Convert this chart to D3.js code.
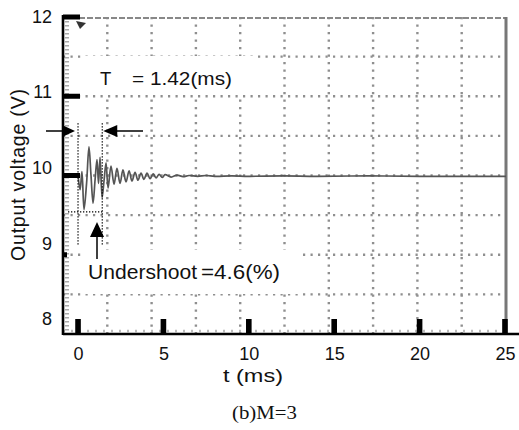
<!DOCTYPE html>
<html>
<head>
<meta charset="utf-8">
<script src="https://cdn.jsdelivr.net/npm/d3@7"></script>
<style>
  body { margin: 0; background: #fff; }
  svg { display: block; font-family: "Liberation Sans", Arial, sans-serif; }
</style>
</head>
<body>
<svg id="chart" width="519" height="430"></svg>
<script>
// Step response of the output voltage (time in ms, voltage in V)
const timeMs = [
  0.00, 0.12, 0.23, 0.35, 0.50, 0.64, 0.76, 0.88, 1.00, 1.11,
  1.20, 1.29, 1.41, 1.53, 1.64, 1.76, 1.93, 2.11, 2.28, 2.46,
  2.63, 2.81, 2.99, 3.16, 3.34, 3.51, 3.69, 3.86, 4.04, 4.22,
  4.40, 4.57, 4.75, 4.93, 5.10, 5.45, 5.80, 6.15, 6.50, 7.00,
  7.50, 8.00, 9.00, 10.0, 12.0, 14.0, 17.0, 20.0, 25.06
];
const voltage = [
  10.00, 9.82, 10.05, 9.57, 9.90, 10.36, 10.00, 9.65, 9.95, 10.20,
  9.90, 10.23, 9.72, 9.95, 10.16, 9.84, 10.12, 9.89, 10.09, 9.90,
  10.07, 9.92, 10.06, 9.93, 10.04, 9.94, 10.03, 9.95, 10.03, 9.96,
  10.02, 9.97, 10.015, 9.975, 10.01, 9.98, 10.005, 9.985, 10.00, 9.99,
  10.00, 9.99, 9.995, 9.99, 9.995, 9.99, 9.995, 9.99, 9.99
];
const xTickValues = [0, 5, 10, 15, 20, 25];
const yTickValues = [8, 9, 10, 11, 12];
const periodMs = 1.42;
const undershootPct = 4.6;
const referenceV = 10;
const gridCols = 10;
const gridRows = 8;

const svg = d3.select("#chart");

const plotL = 63, plotR = 506, plotT = 17, plotB = 334;
const x = d3.scaleLinear().domain([-0.88, 25.06]).range([plotL, plotR]);
const y = d3.scaleLinear().domain([8, 12]).range([plotB, plotT]);
// tick labels sit slightly above their tick marks
const yLabel = d3.scaleLinear().domain([8, 12]).range([319, 16.5]);
const gx = d3.scaleLinear().domain([0, gridCols]).range([plotL, plotR]);
const gy = d3.scaleLinear().domain([0, gridRows]).range([plotT, plotB]);

// scope graticule
const grid = svg.append("g").attr("stroke", "#8f8f8f").attr("stroke-width", 2.4)
  .attr("stroke-dasharray", "2.2,5.3");
grid.selectAll("line.v").data(d3.range(1, gridCols)).join("line").attr("class", "v")
  .attr("x1", d => gx(d)).attr("x2", d => gx(d)).attr("y1", plotT).attr("y2", plotB);
grid.selectAll("line.h").data(d3.range(1, gridRows)).join("line").attr("class", "h")
  .attr("y1", d => gy(d)).attr("y2", d => gy(d)).attr("x1", plotL).attr("x2", plotR);

// minor graticule marks along the inner left and bottom edges
svg.append("line").attr("x1", plotL + 4).attr("x2", plotL + 4).attr("y1", plotT).attr("y2", plotB)
  .attr("stroke", "#aaa").attr("stroke-width", 4).attr("stroke-dasharray", "1.5,2.5");
svg.append("line").attr("x1", plotL).attr("x2", plotR).attr("y1", plotB - 3).attr("y2", plotB - 3)
  .attr("stroke", "#bbb").attr("stroke-width", 2.5).attr("stroke-dasharray", "2,6");

// top and right frame of the scope screen
svg.append("line").attr("x1", plotL).attr("x2", plotR).attr("y1", plotT + 1).attr("y2", plotT + 1)
  .attr("stroke", "#888").attr("stroke-width", 2.2).attr("stroke-dasharray", "6,2");
svg.append("line").attr("x1", plotR).attr("x2", plotR).attr("y1", plotT).attr("y2", plotB)
  .attr("stroke", "#777").attr("stroke-width", 3);

// label backgrounds
svg.append("rect").attr("x", 82).attr("y", 56).attr("width", 175).attr("height", 39).attr("fill", "#fff");
svg.append("rect").attr("x", 85).attr("y", 250).attr("width", 217).attr("height", 44).attr("fill", "#fff");

// waveform
const pts = timeMs.map((t, i) => [t, voltage[i]]);
svg.append("path").datum(pts)
  .attr("fill", "none").attr("stroke", "#555").attr("stroke-width", 1.7)
  .attr("stroke-linejoin", "round")
  .attr("d", d3.line().x(d => x(d[0])).y(d => y(d[1])).curve(d3.curveCatmullRom.alpha(0.5)));

// trigger marker
svg.append("path").attr("d", "M76,21 L86,23 L80,29 Z").attr("fill", "#333");

// axes lines
svg.append("line").attr("x1", plotL).attr("x2", plotL).attr("y1", plotT - 2).attr("y2", plotB + 1)
  .attr("stroke", "#000").attr("stroke-width", 2.6);
svg.append("line").attr("x1", plotL).attr("x2", 519).attr("y1", plotB).attr("y2", plotB)
  .attr("stroke", "#000").attr("stroke-width", 2.6);

// heavy tick marks
svg.selectAll("rect.xt").data(xTickValues).join("rect").attr("class", "xt")
  .attr("x", d => x(d) - 2.8).attr("y", plotB - 15).attr("width", 5.6).attr("height", 15).attr("fill", "#000");
const yTickLen = v => v === 8 ? 0 : v === 9 ? 4 : 17;
svg.selectAll("rect.yt").data(yTickValues).join("rect").attr("class", "yt")
  .attr("x", plotL).attr("y", d => y(d) - 2.5).attr("width", d => yTickLen(d)).attr("height", 5).attr("fill", "#000");

// tick labels
const xAxis = svg.append("g").attr("transform", `translate(0,${plotB})`)
  .call(d3.axisBottom(x).tickValues(xTickValues).tickFormat(d3.format("d")).tickSize(0).tickPadding(13));
const yAxis = svg.append("g").attr("transform", "translate(52,0)")
  .call(d3.axisLeft(yLabel).tickValues(yTickValues).tickFormat(d3.format("d")).tickSize(0).tickPadding(0));
[xAxis, yAxis].forEach(a => {
  a.select(".domain").remove();
  a.selectAll("text").attr("font-family", "'Liberation Sans', Arial, sans-serif")
    .attr("font-size", 18).attr("fill", "#111");
});

// axis titles
svg.append("text").attr("transform", "translate(25,175) rotate(-90)")
  .attr("text-anchor", "middle").attr("font-size", 19.5).attr("fill", "#111")
  .attr("textLength", 172).attr("lengthAdjust", "spacing")
  .text("Output voltage (V)");
svg.append("text").attr("x", 223).attr("y", 382)
  .attr("font-size", 18).attr("fill", "#111")
  .attr("textLength", 60).attr("lengthAdjust", "spacingAndGlyphs")
  .text("t (ms)");

// period annotation
const ann = svg.append("g").attr("fill", "#111").attr("font-size", 18.5);
ann.append("text").attr("x", 100).attr("y", 85).text("T");
ann.append("text").attr("x", 132).attr("y", 85)
  .attr("textLength", 100).attr("lengthAdjust", "spacingAndGlyphs")
  .text(`= ${periodMs.toFixed(2)}(ms)`);

const markTop = 10.66, markBottom = 9.12;
svg.selectAll("line.pm").data([0, periodMs]).join("line").attr("class", "pm")
  .attr("x1", d => x(d)).attr("x2", d => x(d))
  .attr("y1", y(markTop)).attr("y2", y(markBottom))
  .attr("stroke", "#000").attr("stroke-width", 1.3).attr("stroke-dasharray", "1.3,1.7");

const arrowY = 131;
svg.append("line").attr("x1", 46).attr("x2", x(0) - 10).attr("y1", arrowY).attr("y2", arrowY)
  .attr("stroke", "#000").attr("stroke-width", 1.5);
svg.append("path").attr("fill", "#000")
  .attr("d", `M${x(0) - 3},${arrowY} l-13,-6 l0,12 Z`);
svg.append("line").attr("x1", x(periodMs) + 10).attr("x2", 143).attr("y1", arrowY).attr("y2", arrowY)
  .attr("stroke", "#000").attr("stroke-width", 1.5);
svg.append("path").attr("fill", "#000")
  .attr("d", `M${x(periodMs) + 1},${arrowY} l14,-6 l0,12 Z`);

// undershoot annotation
const underV = referenceV * (1 - undershootPct / 100);
svg.append("line").attr("x1", 68).attr("x2", x(periodMs)).attr("y1", y(underV)).attr("y2", y(underV))
  .attr("stroke", "#000").attr("stroke-width", 1.3).attr("stroke-dasharray", "1.3,1.7");
svg.append("line").attr("x1", 97).attr("x2", 97).attr("y1", 236).attr("y2", 259)
  .attr("stroke", "#000").attr("stroke-width", 1.5);
svg.append("path").attr("fill", "#000").attr("d", "M97,222 l-7,15 l14,0 Z");

const ann2 = svg.append("g").attr("fill", "#111").attr("font-size", 19.5);
ann2.append("text").attr("x", 88).attr("y", 279)
  .attr("textLength", 109).attr("lengthAdjust", "spacingAndGlyphs").text("Undershoot");
ann2.append("text").attr("x", 201).attr("y", 279)
  .attr("textLength", 79).attr("lengthAdjust", "spacingAndGlyphs").text(`=${undershootPct}(%)`);

// caption
svg.append("text").attr("x", 232).attr("y", 419)
  .attr("font-family", "'Liberation Serif', 'Times New Roman', serif")
  .attr("font-size", 19).attr("fill", "#111")
  .attr("textLength", 65).attr("lengthAdjust", "spacingAndGlyphs")
  .text("(b)M=3");
</script>
</body>
</html>
